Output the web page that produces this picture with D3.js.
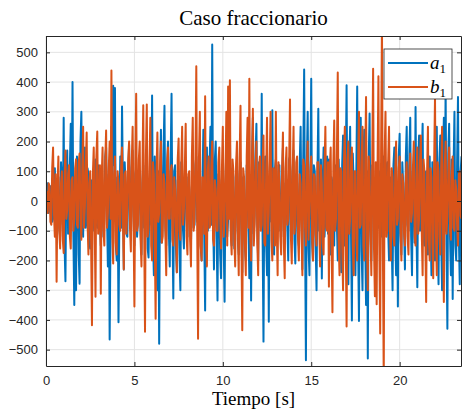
<!DOCTYPE html>
<html>
<head>
<meta charset="utf-8">
<script src="https://cdn.jsdelivr.net/npm/d3@7"></script>
<style>
  body { margin: 0; background: #fff; }
  svg { display: block; }
</style>
</head>
<body>
<div id="chart"></div>
<script>
// Data (sample every 0.05 s)
const dt = 0.05;
const seriesNames = ["a", "b"];
const a1 = [
  20,-10, 60,-40, -30,50, 40,-70, -60,90, 110,-20, -40,70, 80,-90, -120,130, 60,-80,
  280,-150, -270,90, 170,-110, -40,120, 260,-60, 400,-120, -350,80, -300,150, 120,-180, -278,200,
  300,-50, -120,140, 180,-90, -60,110, 90,-130, -160,70, 60,-100, -30,80, 140,-60, -90,120,
  110,-80, -150,100, 40,-120, -60,150, 180,-40, -220,90, -466,-100, 250,-60, 388,120, 380,-150,
  -200,80, -408,-60, 150,-90, 318,40, -230,130, 60,-110, -120,90, 190,-70, -90,110, 170,-50,
  -150,90, 110,-120, -60,70, 90,-100, -180,60, 120,-90, -40,130, 60,-160, -190,40, 140,-80,
  355,-120, -250,150, 80,-200, -300,100, -480,60, 240,-140, -60,180, 320,-90, -150,120, 200,-110,
  -220,140, 361,-80, -328,100, 120,-160, -240,70, 80,-180, -300,130, 60,-100, -160,90, 130,-60,
  -120,80, 40,-100, -140,50, 60,-90, -80,120, 150,-70, -30,90, 110,-150, -200,60, 240,-120,
  -368,150, 180,-100, -50,120, 250,-80, 526,-60, -230,140, 200,-110, -335,90, 70,-180, -260,100,
  120,-150, -339,60, 180,-120, -60,140, 240,-90, -150,110, 80,-160, -100,70, 150,-130, -180,90,
  130,-100, -240,80, 40,-150, -200,120, 110,-90, -260,60, -335,140, 280,-110, -50,150, 260,-80,
  -200,130, 100,-90, 361,-120, -473,80, 150,-140, -250,60, -406,100, 200,-70, 305,-150, -180,110,
  140,-90, -60,120, 120,-100, -100,80, 180,-120, -130,60, 30,-90, -200,140, 150,-80, -40,100,
  170,-130, -210,90, 60,-110, -150,130, 250,-70, -230,150, 442,-100, -536,120, 300,-160, -250,90,
  411,-140, -200,120, 100,-150, -300,80, 310,-100, -80,140, -261,60, 180,-120, -60,90, 150,-110,
  140,-100, -180,80, 60,-130, -150,110, 120,-70, -200,140, 40,-90, -240,120, 220,-110, -150,90,
  389,-150, -280,130, 250,-100, -402,160, 60,-120, -250,90, 385,-140, -404,110, 280,-170, -300,150,
  240,-120, -350,100, -530,140, 294,-90, -200,120, 80,-60, -150,100, 120,-80, -90,70, 100,-110,
  -120,90, 150,-70, -40,110, 130,-90, -200,80, 60,-130, -300,120, 180,-100, -250,60, -355,150,
  226,-110, -180,130, 60,-90, -230,150, 250,-80, -100,160, 280,-120, -250,100, 80,-140, 316,-90,
  -290,140, 220,-100, -60,130, 260,-120, -150,90, 100,-140, -180,110, 150,-90, -250,130, 60,-120,
  -200,150, 250,-110, -280,140, 220,-130, -300,120, 280,-100, 385,-150, -430,160, 260,-120, -250,140,
  -330,110, 300,-150, -200,130, 350,-120, -280,100, 150
];
const b1 = [
  0,30, -40,60, 50,-70, -80,110, 180,-40, -120,90, -272,40, 150,-100, -160,60, 100,-130,
  -175,80, 170,-60, -30,90, 120,-120, -160,70, 80,-100, -60,110, 140,-80, -90,130, 160,-50,
  -130,110, 250,-90, -20,120, 230,-70, -180,60, 100,-140, -418,90, 180,-60, -322,150, 234,-110,
  -60,120, -312,80, 180,-100, -150,130, 237,-90, -40,110, 200,-60, 439,-120, -210,90, 150,-140,
  -180,100, 60,-80, -100,120, 180,-60, -230,90, 100,-110, -20,140, 200,-90, -170,130, 250,-70,
  -355,120, 361,-100, -80,140, 200,-130, -220,90, 322,-80, -440,150, 325,-120, -90,110, 280,-150,
  -200,130, 90,-110, -396,100, 230,-70, -40,120, 200,-140, -120,90, 60,-100, -250,130, 180,-60,
  -60,100, 120,-130, -150,80, 40,-90, -240,140, 210,-100, -130,120, 250,-80, -30,110, 260,-120,
  -180,90, 100,-130, -220,150, 280,-100, -60,120, 453,-90, -463,140, 300,-150, -200,80, 50,-110,
  352,-140, -220,100, 150,-90, -80,120, 200,-130, -150,70, 40,-100, -100,130, 180,-60, -160,110,
  250,-120, -60,90, 300,-150, 385,-60, 406,-110, -180,140, 100,-130, -220,120, 200,-90, -250,140,
  320,-130, -435,110, 80,-140, -250,150, 280,-90, 411,-120, -200,130, 310,-150, -80,100, 200,-140,
  -250,120, 150,-100, -80,130, 220,-140, -150,90, 280,-110, -40,120, 300,-130, -200,110, 100,-150,
  300,-90, -250,130, 60,-120, -180,100, 230,-140, -260,110, 180,-80, -60,130, 341,-120, -210,90,
  250,-110, -80,130, 150,-120, -200,90, 60,-100, -250,140, 120,-90, -150,110, 200,-130, -40,100,
  150,-120, -200,90, 80,-110, -150,130, 130,-80, -220,120, 60,-140, -180,100, 250,-90, -100,130,
  -288,110, 180,-140, -374,120, 271,-100, -60,150, 432,-130, -250,110, 100,-150, -300,130, 250,-120,
  -422,140, 200,-110, -60,130, 180,-150, -250,100, 100,-120, -200,140, 300,-90, -80,130, 250,-150,
  -200,120, 350,-130, -300,150, 100,-110, -250,140, 445,-160, -320,130, -347,110, 420,-150, -446,160,
  600,-140, -600,150, 300,-120, -100,130, 250,-90, -200,110, 80,-120, -150,100, 200,-80, -60,110,
  150,-100, -200,90, 60,-110, -150,80, 130,-120, -180,100, 160,-70, -40,110, 200,-120, -150,90,
  180,-110, -60,130, 220,-100, -250,140, 100,-120, -340,90, 250,-130, -200,110, 80,-140, -260,120,
  350,-100, -250,130, 100,-120, -180,110, 250,-90, -340,120, 200,-110, -50,90, 180,-100, -130,80,
  150,-90, -100,70, 40,-80, -150,90, 100,-50, -60
];
const xTicks = [0, 5, 10, 15, 20];
const yTicks = [-500, -400, -300, -200, -100, 0, 100, 200, 300, 400, 500];

// Dimensions
const margin = {top: 36, right: 1, bottom: 46, left: 46},
    width = 462 - margin.left - margin.right,
    height = 412 - margin.top - margin.bottom;

const blue = "#0072BD", orange = "#D95319", axisCol = "#262626";

// Scales
const xScale = d3.scaleLinear().domain([0, 23.47]).range([0, width]);
const yScale = d3.scaleLinear().domain([-555, 555]).range([height, 0]);

const svg = d3.select("#chart").append("svg")
    .attr("width", 462)
    .attr("height", 412);

const g = svg.append("g")
    .attr("transform", "translate(" + margin.left + "," + margin.top + ")");

// Grid
g.append("g").selectAll("line").data(xTicks).enter().append("line")
    .attr("x1", d => xScale(d)).attr("x2", d => xScale(d))
    .attr("y1", 0).attr("y2", height)
    .attr("stroke", "#e3e3e3").attr("stroke-width", 1);
g.append("g").selectAll("line").data(yTicks).enter().append("line")
    .attr("y1", d => yScale(d)).attr("y2", d => yScale(d))
    .attr("x1", 0).attr("x2", width)
    .attr("stroke", "#e3e3e3").attr("stroke-width", 1);

// Clip
svg.append("defs").append("clipPath").attr("id", "clip")
    .append("rect").attr("width", width).attr("height", height);

const line = d3.line()
    .x((d, i) => xScale(i * dt))
    .y(d => yScale(d));

const plot = g.append("g").attr("clip-path", "url(#clip)");
plot.append("path").datum(a1)
    .attr("d", line).attr("fill", "none")
    .attr("stroke", blue).attr("stroke-width", 2).attr("stroke-linejoin", "round");
plot.append("path").datum(b1)
    .attr("d", line).attr("fill", "none")
    .attr("stroke", orange).attr("stroke-width", 2).attr("stroke-linejoin", "round");

// Axes (ticks pointing inward, box on)
const tickFont = "Liberation Sans, Arial, sans-serif";
function styleAxis(sel) {
    sel.selectAll("path").attr("stroke", axisCol);
    sel.selectAll("line").attr("stroke", axisCol);
    sel.selectAll("text").attr("fill", axisCol)
        .style("font-family", tickFont).style("font-size", "13px");
}
g.append("g").attr("transform", "translate(0," + height + ")")
    .call(d3.axisBottom(xScale).tickValues(xTicks).tickSizeInner(-4).tickSizeOuter(0).tickPadding(10))
    .call(styleAxis);
g.append("g")
    .call(d3.axisTop(xScale).tickValues(xTicks).tickSizeInner(-4).tickSizeOuter(0).tickFormat(""))
    .call(styleAxis);
g.append("g")
    .call(d3.axisLeft(yScale).tickValues(yTicks).tickSizeInner(-4).tickSizeOuter(0).tickPadding(8))
    .call(styleAxis);
g.append("g").attr("transform", "translate(" + width + ",0)")
    .call(d3.axisRight(yScale).tickValues(yTicks).tickSizeInner(-4).tickSizeOuter(0).tickFormat(""))
    .call(styleAxis);

// Title and x label
const serif = "Liberation Serif, Times New Roman, serif";
svg.append("text")
    .attr("x", margin.left + width / 2).attr("y", 25)
    .attr("text-anchor", "middle")
    .style("font-family", serif).style("font-size", "21px").attr("fill", "#000")
    .text("Caso fraccionario");
svg.append("text")
    .attr("x", margin.left + width / 2).attr("y", 405)
    .attr("text-anchor", "middle")
    .style("font-family", serif).style("font-size", "19px").attr("fill", "#000")
    .text("Tiempo [s]");

// Legend
const legend = svg.append("g").attr("transform", "translate(384,49)");
legend.append("rect")
    .attr("width", 68).attr("height", 50)
    .attr("fill", "#fff").attr("stroke", axisCol).attr("stroke-width", 0.8);
[blue, orange].forEach((c, i) => {
    const y = 14 + i * 24;
    legend.append("line")
        .attr("x1", 4).attr("x2", 44).attr("y1", y).attr("y2", y)
        .attr("stroke", c).attr("stroke-width", 1.8);
    const t = legend.append("text")
        .attr("x", 46).attr("y", y + 6)
        .style("font-family", serif).style("font-size", "19px").attr("fill", "#000");
    t.append("tspan").style("font-style", "italic").text(seriesNames[i]);
    t.append("tspan").attr("dy", 4).style("font-size", "13px").text("1");
});
</script>
</body>
</html>
